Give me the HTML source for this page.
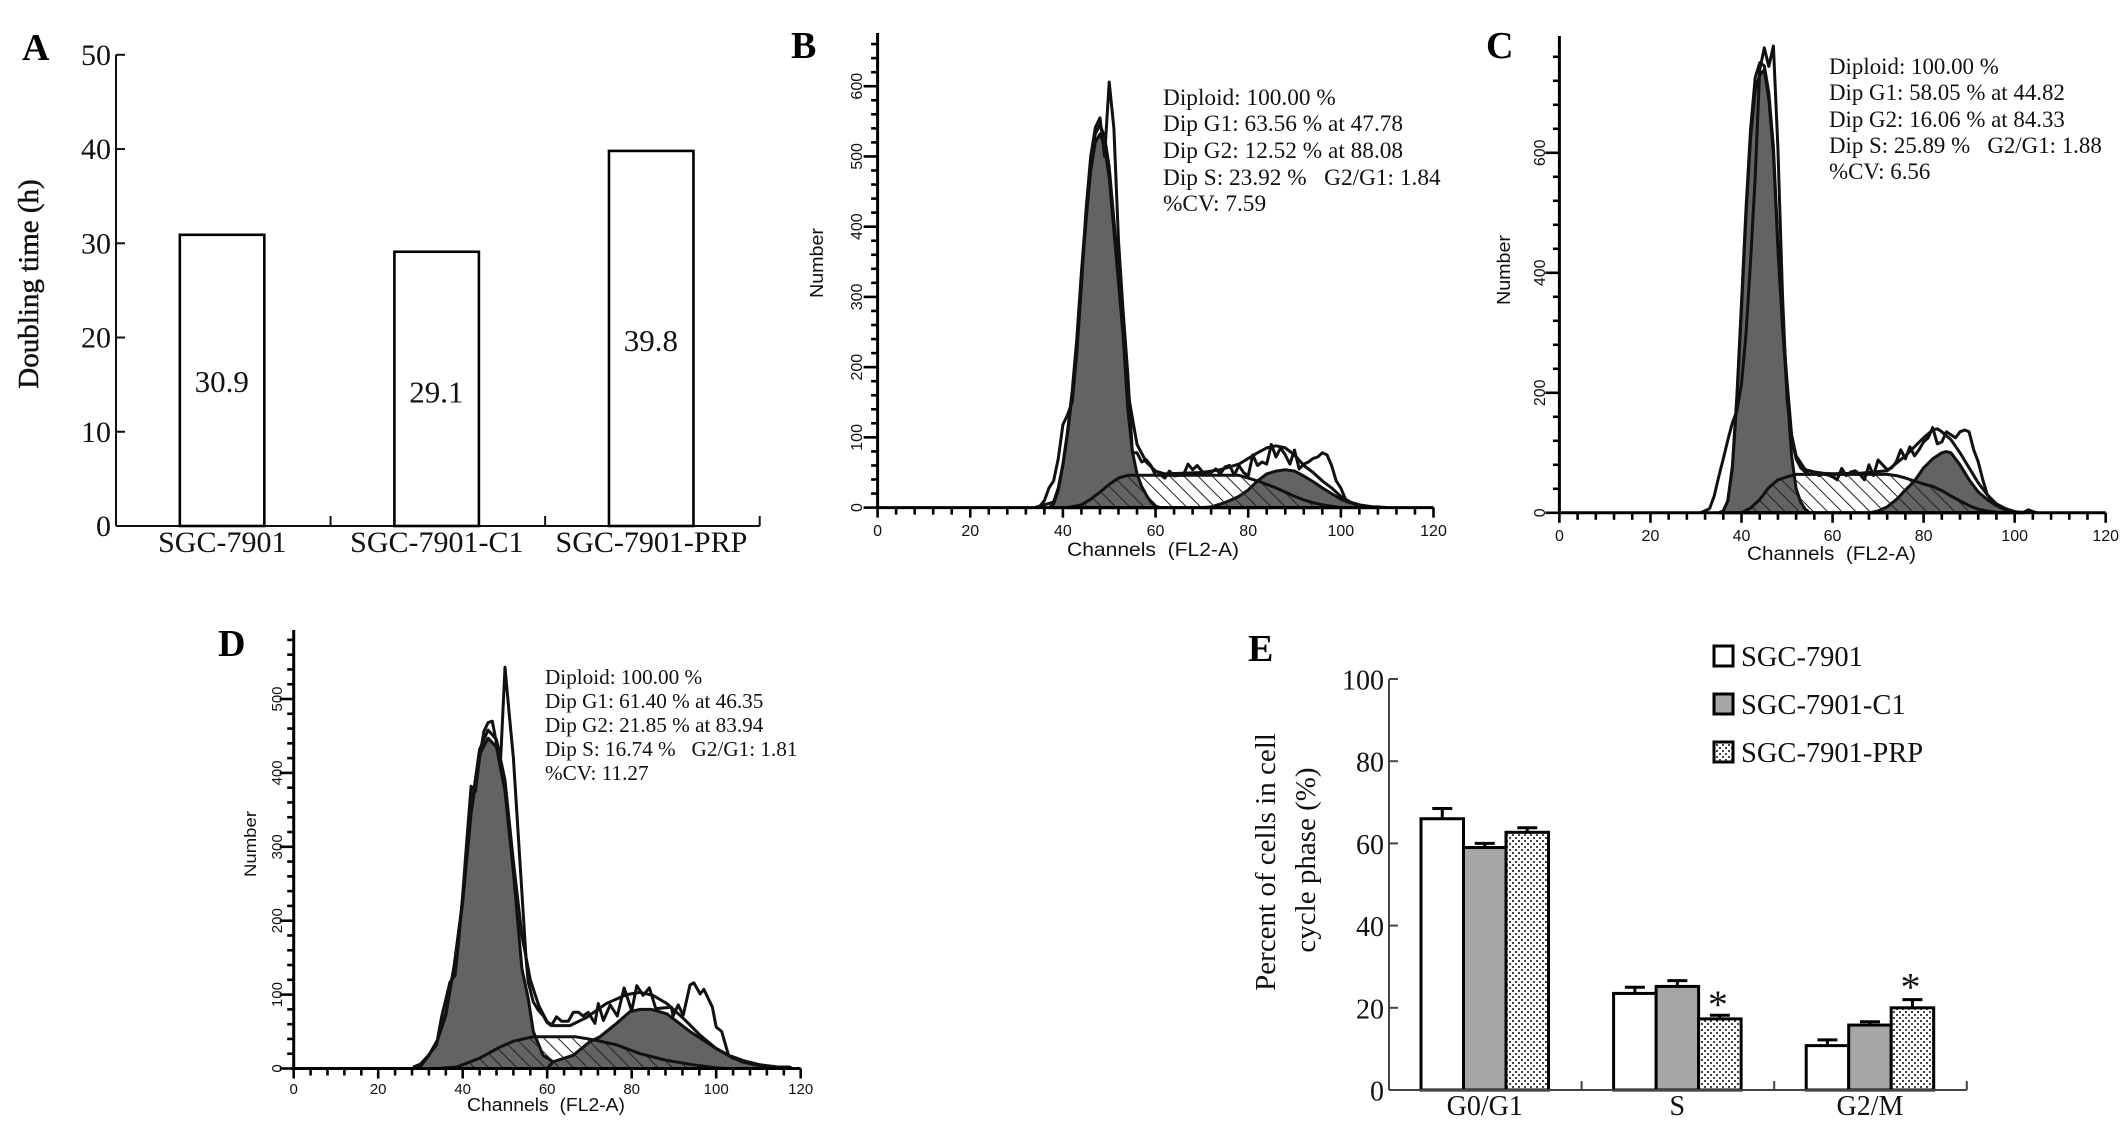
<!DOCTYPE html>
<html lang="en">
<head>
<meta charset="utf-8">
<title>Cell doubling time and cell cycle distribution</title>
<style>
html,body{margin:0;padding:0;background:#fff;}
svg{display:block;}
text{fill:#111;font-family:"Liberation Serif",serif;}
.sans{font-family:"Liberation Sans",sans-serif;}
.label{font-weight:bold;font-size:38px;fill:#000;}
.note{white-space:pre;}
</style>
</head>
<body>
<svg id="figure" xmlns="http://www.w3.org/2000/svg" width="2126" height="1126" viewBox="0 0 2126 1126">
  <defs>
    <pattern id="hatch" patternUnits="userSpaceOnUse" width="10" height="10" patternTransform="rotate(-45)">
      <line x1="0" y1="0" x2="0" y2="10" stroke="#222" stroke-width="2"/>
    </pattern>
    <pattern id="dots" patternUnits="userSpaceOnUse" width="6" height="6">
      <rect width="6" height="6" fill="#fff"/>
      <rect x="0" y="0" width="2" height="2" fill="#444"/>
      <rect x="3" y="3" width="2" height="2" fill="#444"/>
    </pattern>
  </defs>
  <rect width="2126" height="1126" fill="#fff"/>

  <g id="panel-a">
    <text class="label" x="22" y="60">A</text>
    <text x="38" y="284" font-size="29" text-anchor="middle" transform="rotate(-90 38 284)" stroke="#111" stroke-width="0.5">Doubling time (h)</text>
  </g>

  <g id="panel-b">
    <text class="label" x="791" y="58">B</text>
    <text class="sans" x="823" y="263" font-size="18" text-anchor="middle" textLength="70" lengthAdjust="spacingAndGlyphs" transform="rotate(-90 823 263)">Number</text>
    <text class="sans" x="1067" y="556" font-size="19" textLength="172" lengthAdjust="spacingAndGlyphs">Channels&#160;&#160;(FL2-A)</text>
    <g font-size="23.3" class="note">
      <text x="1163" y="105">Diploid: 100.00 %</text>
      <text x="1163" y="131">Dip G1: 63.56 % at 47.78</text>
      <text x="1163" y="158">Dip G2: 12.52 % at 88.08</text>
      <text x="1163" y="185">Dip S: 23.92 %&#160;&#160;&#160;G2/G1: 1.84</text>
      <text x="1163" y="211">%CV: 7.59</text>
    </g>
  </g>

  <g id="panel-c">
    <text class="label" x="1486" y="58">C</text>
    <text class="sans" x="1510" y="270" font-size="18" text-anchor="middle" textLength="70" lengthAdjust="spacingAndGlyphs" transform="rotate(-90 1510 270)">Number</text>
    <text class="sans" x="1747" y="560" font-size="19" textLength="169" lengthAdjust="spacingAndGlyphs">Channels&#160;&#160;(FL2-A)</text>
    <g font-size="22.9" class="note">
      <text x="1829" y="74">Diploid: 100.00 %</text>
      <text x="1829" y="100">Dip G1: 58.05 % at 44.82</text>
      <text x="1829" y="127">Dip G2: 16.06 % at 84.33</text>
      <text x="1829" y="153">Dip S: 25.89 %&#160;&#160;&#160;G2/G1: 1.88</text>
      <text x="1829" y="179">%CV: 6.56</text>
    </g>
  </g>

  <g id="panel-d">
    <text class="label" x="218" y="656">D</text>
    <text class="sans" x="256" y="844" font-size="17" text-anchor="middle" textLength="66" lengthAdjust="spacingAndGlyphs" transform="rotate(-90 256 844)">Number</text>
    <text class="sans" x="467" y="1111" font-size="18" textLength="158" lengthAdjust="spacingAndGlyphs">Channels&#160;&#160;(FL2-A)</text>
    <g font-size="21.2" class="note">
      <text x="545" y="684">Diploid: 100.00 %</text>
      <text x="545" y="708">Dip G1: 61.40 % at 46.35</text>
      <text x="545" y="732">Dip G2: 21.85 % at 83.94</text>
      <text x="545" y="756">Dip S: 16.74 %&#160;&#160;&#160;G2/G1: 1.81</text>
      <text x="545" y="780">%CV: 11.27</text>
    </g>
  </g>

  <g id="panel-e">
    <text class="label" x="1248" y="661">E</text>
    <text x="1275" y="862" font-size="29" text-anchor="middle" transform="rotate(-90 1275 862)">Percent of cells in cell</text>
    <text x="1315" y="860" font-size="29" text-anchor="middle" transform="rotate(-90 1315 860)">cycle phase (%)</text>
    <g>
      <rect x="1714" y="646" width="19" height="20" fill="#fff" stroke="#000" stroke-width="3"/>
      <text x="1741" y="666" font-size="28.5">SGC-7901</text>
      <rect x="1714" y="694" width="19" height="20" fill="#a6a6a6" stroke="#000" stroke-width="3"/>
      <text x="1741" y="714" font-size="28.5">SGC-7901-C1</text>
      <rect x="1714" y="742" width="19" height="20" fill="url(#dots)" stroke="#000" stroke-width="3"/>
      <text x="1741" y="762" font-size="28.5">SGC-7901-PRP</text>
    </g>
  </g>
</svg>

<script>
// ---------- Panel A data ----------
const doublingCategories = ['SGC-7901', 'SGC-7901-C1', 'SGC-7901-PRP'];
const doublingValues = [30.9, 29.1, 39.8];
const doublingTicks = [0, 10, 20, 30, 40, 50];

// ---------- Panel E data ----------
const phaseCategories = ['G0/G1', 'S', 'G2/M'];
const phaseParental = [66, 23.5, 10.8];
const phaseC1 = [59, 25.2, 15.8];
const phasePrp = [62.7, 17.3, 20];
const phaseParentalErr = [2.5, 1.5, 1.4];
const phaseC1Err = [1, 1.4, 0.8];
const phasePrpErr = [1.1, 0.9, 2];
const phaseTicks = [0, 20, 40, 60, 80, 100];

// ---------- Histogram axis data ----------
const channelTicks = [0, 20, 40, 60, 80, 100, 120];
const bCountTicks = [0, 100, 200, 300, 400, 500, 600];
const cCountTicks = [0, 200, 400, 600];
const dCountTicks = [0, 100, 200, 300, 400, 500];

// ---------- Panel B series ----------
const bG1Channels = [37,38,39,40,41,42,43,44,45,46,47,48,49,50,51,52,53,54,55,56,57,58,59,60,61];
const bG1Counts = [0,5,25,60,105,160,235,325,410,480,520,532,515,470,395,320,245,140,80,48,30,18,8,2,0];
const bSChannels = [41,44,46,48,50,52,54,60,70,78,80,82,84,86,88,90,92,94,96,98,100];
const bSCounts = [0,4,12,22,33,42,46,46,46,46,42,38,33,28,22,16,11,7,4,2,0];
const bG2Channels = [70,72,74,76,78,80,82,84,86,88,90,92,94,96,98,100,102,104,106,108];
const bG2Counts = [0,1,5,10,16,25,38,48,52,54,52,45,37,28,20,12,7,3,1,0];
const bFitChannels = [34,36,38,39,40,41,42,43,44,45,46,47,48,49,50,51,52,53,54,56,58,60,62,70,74,78,82,84,86,88,90,92,94,96,98,100,102,104,106,108];
const bFitCounts = [0,4,8,28,62,108,166,240,335,420,492,532,545,528,485,410,335,260,165,90,65,52,48,50,54,62,78,85,88,85,75,60,50,38,28,16,8,4,2,0];
const bRawChannels = [34,35,36,37,38,39,40,41,42,43,44,45,46,47,48,49,50,51,52,53,54,55,56,57,58,59,60,61,62,63,64,65,66,67,68,69,70,71,72,73,74,75,76,77,78,79,80,81,82,83,84,85,86,87,88,89,90,91,92,93,94,95,96,97,98,99,100,101,102,103,104,105,106,108,110];
const bRawCounts = [0,2,10,28,38,70,118,132,150,220,315,425,500,541,555,500,606,540,380,280,190,78,78,65,68,60,46,47,42,52,45,46,46,62,54,60,52,46,50,55,48,58,60,46,60,50,45,75,60,65,62,90,72,85,75,62,82,55,62,65,70,72,78,75,60,38,28,12,8,5,3,2,1,1,0];

// ---------- Panel C series ----------
const cG1Channels = [35,36,37,38,39,40,41,42,43,44,45,46,47,48,49,50,51,52,53,54,55];
const cG1Counts = [0,3,20,75,190,340,500,625,705,730,738,690,600,440,310,205,95,40,18,6,0];
const cSChannels = [40,42,44,46,48,50,52,60,72,74,76,78,80,82,84,86,88,90,92,94,96,98];
const cSCounts = [0,8,22,42,55,60,64,64,64,62,58,53,48,44,37,28,20,12,6,3,1,0];
const cG2Channels = [68,70,72,74,76,78,80,82,84,85,86,88,90,92,94,96,98,100,102];
const cG2Counts = [0,3,10,22,38,53,75,90,100,102,100,80,55,35,22,12,5,1,0];
const cFitChannels = [35,36,37,38,39,40,41,42,43,44,45,46,47,48,49,50,51,52,54,56,58,60,66,72,76,78,80,82,83,84,86,88,90,92,94,96,98,100,102];
const cFitCounts = [0,3,20,78,195,350,510,640,725,750,745,700,610,450,320,220,130,95,72,68,66,65,66,70,95,110,125,138,140,135,122,100,75,50,30,15,7,2,0];
const cRawChannels = [31,33,34,35,36,37,38,39,40,41,42,43,44,45,46,47,48,49,50,51,52,53,54,55,56,57,58,59,60,61,62,63,64,65,66,67,68,69,70,71,72,73,74,75,76,77,78,79,80,81,82,83,84,85,86,87,88,89,90,91,92,93,94,95,96,97,98,99,100,102,103,104,105];
const cRawCounts = [0,7,28,60,90,121,150,170,215,300,420,560,738,775,744,778,608,362,190,125,90,75,68,64,66,62,65,63,60,55,74,62,68,70,64,55,80,62,88,80,72,75,85,105,90,110,95,105,118,125,142,115,118,135,130,125,135,138,135,105,85,55,30,20,14,8,5,2,1,1,5,2,0];

// ---------- Panel D series ----------
const dG1Channels = [28,30,32,34,36,38,40,42,44,46,48,50,52,54,55.5,56.7,59,61.4,63];
const dG1Counts = [0,3,18,38,72,140,225,345,425,447,435,375,265,135,95,50,18,9,0];
const dSChannels = [34,38.6,44,48.8,52,56.7,66.6,71.7,76.4,82,88.3,94.6,100,102];
const dSCounts = [0,2,14,29,37,43,43,38,32,20,11,5,1,0];
const dG2Channels = [60,61.4,66.2,70,72.5,76.4,79.6,82,84.7,88.3,93.8,100,104,110.4,116,118];
const dG2Counts = [0,9,18,36,43,61,77,80,80,74,50,27,14,5,1,0];
const dFitChannels = [28,30,32,34,36,38,40,42,44,46,48,50,52,54,56,58,60,61.4,65.4,69.3,74,78.8,82,85,88.3,92.2,96.2,100,102.9,106,110,114];
const dFitCounts = [0,3,18,38,75,140,228,350,432,458,445,390,280,180,120,85,63,58,58,69,88,100,103,99,88,68,45,27,18,9,4,0];
const dRawChannels = [28.3,30,31.9,33.8,35,37,38.2,39,40,41,42,43,44,45,46,47,48,49,50,51,52,53,55,55.5,56.7,58,59,60,61,62.2,63.4,65,66.2,67.4,68.5,69.7,71.3,72.1,73.3,74.9,76.6,78.2,80,81.2,82.7,84.2,85.7,89.4,89.8,91,92.2,93.8,94.7,96.2,97.1,99.1,100,101.3,102.9,107.2,112,117.4,118];
const dRawCounts = [2,6,18,32,70,117,126,170,235,310,382,375,420,456,468,470,440,420,543,480,420,330,148,117,90,78,72,62,58,70,64,64,76,76,71,76,61,88,65,86,71,109,78,112,99,109,81,83,71,86,72,113,116,101,107,83,56,50,18,9,2,2,0];

// ---------- Drawing helpers ----------
const NS = 'http://www.w3.org/2000/svg';
function make(parent, tag, props, content) {
  const el = document.createElementNS(NS, tag);
  for (const key in props) el.setAttribute(key, props[key]);
  if (content !== undefined) el.textContent = content;
  parent.appendChild(el);
  return el;
}
function pointsFor(channels, counts, sx, sy) {
  return channels.map(function (c, i) { return sx(c).toFixed(1) + ',' + sy(counts[i]).toFixed(1); }).join(' ');
}

// ---------- Histogram drawing ----------
function drawHistogram(panelId, geo, xTicks, yTicks, g1C, g1V, sC, sV, g2C, g2V, fitC, fitV, rawC, rawV) {
  const panel = document.getElementById(panelId);
  const sx = function (c) { return geo.x0 + c * (geo.x120 - geo.x0) / 120; };
  const sy = function (v) { return geo.y0 - v * geo.pxPerCount; };

  const sBase = make(panel, 'polygon', { points: pointsFor(sC, sV, sx, sy), fill: '#fff' });
  
  
  const g1 = make(panel, 'polygon', { points: pointsFor(g1C, g1V, sx, sy), fill: '#636363', stroke: '#111', 'stroke-width': 3, 'stroke-linejoin': 'round' });
  
  
  const g2 = make(panel, 'polygon', { points: pointsFor(g2C, g2V, sx, sy), fill: '#636363', stroke: '#111', 'stroke-width': 3, 'stroke-linejoin': 'round' });
  
  
  const sHatch = make(panel, 'polygon', { points: pointsFor(sC, sV, sx, sy), fill: 'url(#hatch)', stroke: '#111', 'stroke-width': 3, 'stroke-linejoin': 'round' });
  
  
  const fit = make(panel, 'polyline', { points: pointsFor(fitC, fitV, sx, sy), fill: 'none', stroke: '#111', 'stroke-width': 3, 'stroke-linejoin': 'round' });
  
  
  const raw = make(panel, 'polyline', { points: pointsFor(rawC, rawV, sx, sy), fill: 'none', stroke: '#111', 'stroke-width': 3, 'stroke-linejoin': 'round' });
  
  

  // axes
  const xAxis = make(panel, 'line', { x1: sx(0), y1: geo.y0, x2: sx(120), y2: geo.y0, stroke: '#000', 'stroke-width': 3 });
  
  
  const yAxis = make(panel, 'line', { x1: sx(0), y1: geo.y0, x2: sx(0), y2: geo.yTop, stroke: '#000', 'stroke-width': 3 });
  
  
  for (let c = 0; c <= 120; c += 4) {
    const major = c % 20 === 0;
    const t = make(panel, 'line', { x1: sx(c), y1: geo.y0, x2: sx(c), y2: geo.y0 + (major ? 10 : 7), stroke: '#000', 'stroke-width': 2.6 });
    
    
  }
  xTicks.forEach(function (c) {
    const t = make(panel, 'text', { x: sx(c), y: geo.xLabelY, 'font-size': geo.tickFont, 'text-anchor': 'middle', class: 'sans' }, String(c));
    
    
  });
  for (let v = 0; v <= geo.yMax; v += geo.minorStep) {
    const major = v % geo.majorStep === 0;
    const t = make(panel, 'line', { x1: sx(0), y1: sy(v), x2: sx(0) - (major ? 14 : 6.5), y2: sy(v), stroke: '#000', 'stroke-width': 2.6 });
    
    
  }
  yTicks.forEach(function (v) {
    const t = make(panel, 'text', { x: geo.yLabelX, y: sy(v), 'font-size': geo.tickFont, 'text-anchor': 'middle', class: 'sans', transform: 'rotate(-90 ' + geo.yLabelX + ' ' + sy(v) + ')' }, String(v));
    
    
  });
}

drawHistogram('panel-b',
  { x0: 877.6, x120: 1433.5, y0: 507.6, yTop: 33, pxPerCount: 0.7023, yMax: 660, minorStep: 20, majorStep: 100, xLabelY: 536, yLabelX: 862, tickFont: 16 },
  channelTicks, bCountTicks, bG1Channels, bG1Counts, bSChannels, bSCounts, bG2Channels, bG2Counts, bFitChannels, bFitCounts, bRawChannels, bRawCounts);
drawHistogram('panel-c',
  { x0: 1559.4, x120: 2105.7, y0: 512.8, yTop: 36, pxPerCount: 0.6, yMax: 760, minorStep: 40, majorStep: 200, xLabelY: 541, yLabelX: 1545, tickFont: 16 },
  channelTicks, cCountTicks, cG1Channels, cG1Counts, cSChannels, cSCounts, cG2Channels, cG2Counts, cFitChannels, cFitCounts, cRawChannels, cRawCounts);
drawHistogram('panel-d',
  { x0: 293.7, x120: 800.7, y0: 1068.5, yTop: 630, pxPerCount: 0.739, yMax: 580, minorStep: 20, majorStep: 100, xLabelY: 1094, yLabelX: 282, tickFont: 15 },
  channelTicks, dCountTicks, dG1Channels, dG1Counts, dSChannels, dSCounts, dG2Channels, dG2Counts, dFitChannels, dFitCounts, dRawChannels, dRawCounts);

// ---------- Panel A drawing ----------
(function () {
  const panel = document.getElementById('panel-a');
  const left = 116, right = 759.7, y0 = 526, y50 = 54.8;
  const sy = function (v) { return y0 - v * (y0 - y50) / 50; };
  const band = (right - left) / doublingCategories.length;
  const barWidth = 84.5;
  const valueDrop = [157, 150.6, 200];

  const xAxis = make(panel, 'line', { x1: left, y1: y0, x2: right, y2: y0, stroke: '#111', 'stroke-width': 2 });
  
  
  const yAxis = make(panel, 'line', { x1: left, y1: y0, x2: left, y2: y50, stroke: '#111', 'stroke-width': 2 });
  
  

  doublingTicks.forEach(function (v) {
    const t = make(panel, 'line', { x1: left, y1: sy(v), x2: left + 9, y2: sy(v), stroke: '#111', 'stroke-width': 2 });
    
    
    const l = make(panel, 'text', { x: left - 5, y: sy(v) + 10, 'font-size': 30, 'text-anchor': 'end' }, String(v));
    
    
  });

  doublingCategories.forEach(function (name, i) {
    const cx = left + band * (i + 0.5);
    const tickX = left + band * (i + 1);
    const t = make(panel, 'line', { x1: tickX, y1: y0, x2: tickX, y2: y0 - 10, stroke: '#111', 'stroke-width': 2 });
    
    
    const bar = make(panel, 'rect', { x: cx - barWidth / 2 - 1.2, y: sy(doublingValues[i]), width: barWidth, height: y0 - sy(doublingValues[i]), fill: '#fff', stroke: '#000', 'stroke-width': 2.6 });
    
    
    const value = make(panel, 'text', { x: cx - 1.5, y: sy(doublingValues[i]) + valueDrop[i], 'font-size': 31, 'text-anchor': 'middle' }, doublingValues[i].toFixed(1));
    
    
    const label = make(panel, 'text', { x: cx - 1, y: 552, 'font-size': 30, 'text-anchor': 'middle' }, name);
    
    
  });
})();

// ---------- Panel E drawing ----------
(function () {
  const panel = document.getElementById('panel-e');
  const left = 1389, right = 1966.8, y0 = 1090, y100 = 679;
  const sy = function (v) { return y0 - v * (y0 - y100) / 100; };
  const groupStep = (right - left) / phaseCategories.length;
  const barWidth = 42.5;
  const groupOffset = 32;
  const seriesValues = [phaseParental, phaseC1, phasePrp];
  const seriesErrors = [phaseParentalErr, phaseC1Err, phasePrpErr];
  const seriesFills = ['#fff', '#a6a6a6', 'url(#dots)'];
  const seriesNames = ['sgc-7901', 'sgc-7901-c1', 'sgc-7901-prp'];

  phaseCategories.forEach(function (name, g) {
    const start = left + groupOffset + groupStep * g;
    seriesValues.forEach(function (vals, s) {
      const x = start + barWidth * s;
      const top = sy(vals[g]);
      const errTop = sy(vals[g] + seriesErrors[s][g]);
      const stem = make(panel, 'line', { x1: x + barWidth / 2, y1: top, x2: x + barWidth / 2, y2: errTop, stroke: '#000', 'stroke-width': 3 });
      
      
      const cap = make(panel, 'line', { x1: x + barWidth / 2 - 10, y1: errTop, x2: x + barWidth / 2 + 10, y2: errTop, stroke: '#000', 'stroke-width': 3 });
      
      
      const bar = make(panel, 'rect', { x: x, y: top, width: barWidth, height: y0 - top, fill: seriesFills[s], stroke: '#000', 'stroke-width': 3 });
      
      
    });
    const label = make(panel, 'text', { x: start + barWidth * 1.5, y: 1115, 'font-size': 28, 'text-anchor': 'middle' }, name);
    
    
    if (g > 0) {
      const tx = left + groupStep * g;
      const t = make(panel, 'line', { x1: tx, y1: y0, x2: tx, y2: y0 - 9, stroke: '#444', 'stroke-width': 2 });
      
      
    }
  });
  const rightTick = make(panel, 'line', { x1: right, y1: y0, x2: right, y2: y0 - 9, stroke: '#444', 'stroke-width': 2 });
  
  

  const xAxis = make(panel, 'line', { x1: left, y1: y0, x2: right, y2: y0, stroke: '#444', 'stroke-width': 2 });
  
  
  const yAxis = make(panel, 'line', { x1: left, y1: y0, x2: left, y2: y100, stroke: '#444', 'stroke-width': 2 });
  
  
  phaseTicks.forEach(function (v) {
    const t = make(panel, 'line', { x1: left, y1: sy(v), x2: left + 9, y2: sy(v), stroke: '#444', 'stroke-width': 2 });
    
    
    const l = make(panel, 'text', { x: left - 5, y: sy(v) + 10.5, 'font-size': 28, 'text-anchor': 'end' }, String(v));
    
    
  });

  const starS = make(panel, 'text', { x: left + groupOffset + groupStep + barWidth * 2.5 - 2, y: sy(phasePrp[1] + phasePrpErr[1]) + 3, 'font-size': 40, 'text-anchor': 'middle' }, '*');
  
  
  const starG2 = make(panel, 'text', { x: left + groupOffset + groupStep * 2 + barWidth * 2.5 - 2, y: sy(phasePrp[2] + phasePrpErr[2]) + 1, 'font-size': 40, 'text-anchor': 'middle' }, '*');
  
  
})();
</script>
</body>
</html>
